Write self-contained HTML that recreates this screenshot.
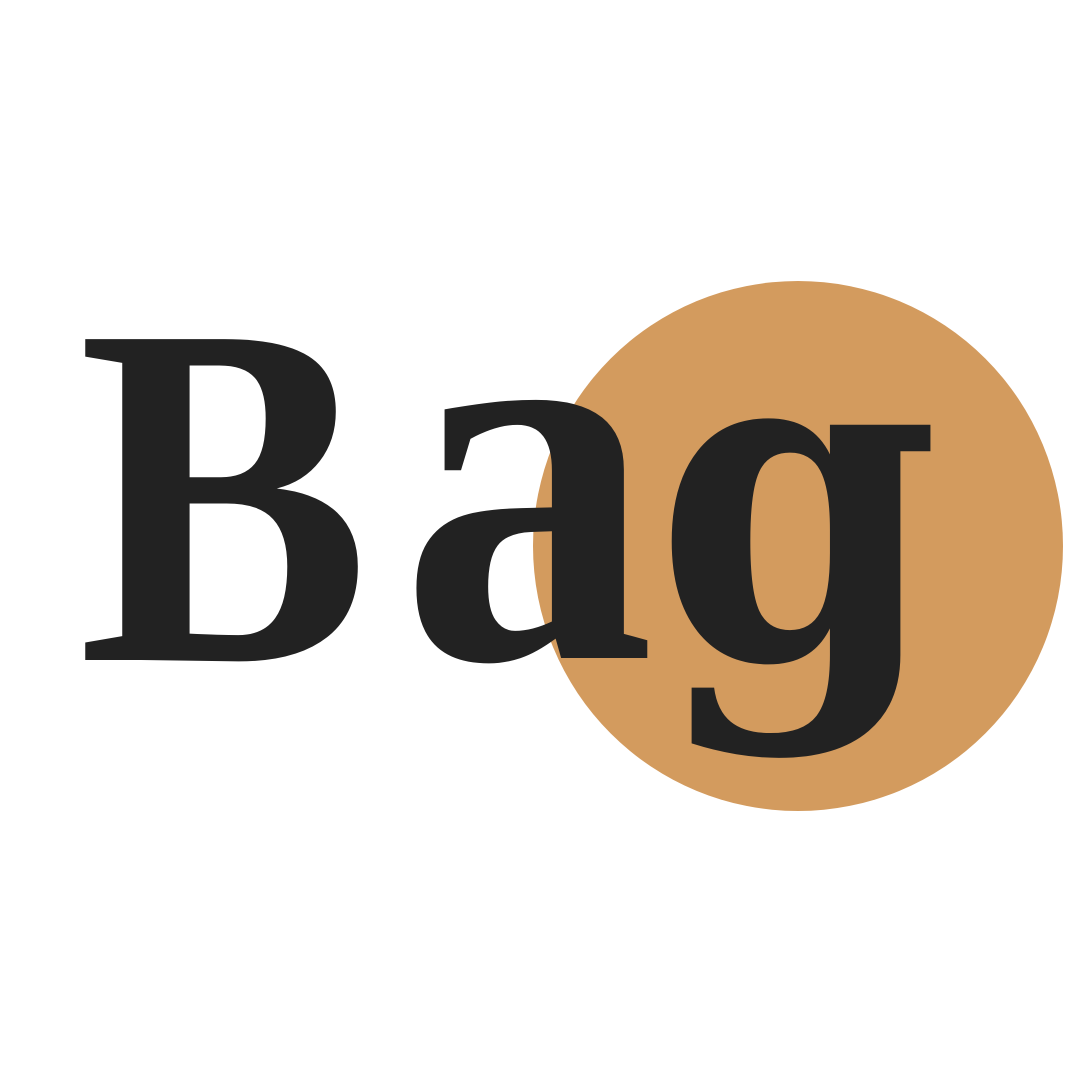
<!DOCTYPE html>
<html>
<head>
<meta charset="utf-8">
<style>
  html,body{margin:0;padding:0;background:#fff;}
  svg{display:block;}
  text{font-family:"Liberation Serif", serif;font-weight:bold;fill:#222222;}
  .g{font-family:"DejaVu Serif", serif;}
</style>
</head>
<body>
<svg width="1080" height="1080" viewBox="0 0 1080 1080">
  <rect width="1080" height="1080" fill="#ffffff"/>
  <circle cx="798" cy="546" r="265" fill="#D39B5E"/>
  <text x="78" y="660" font-size="490" textLength="292" lengthAdjust="spacingAndGlyphs">B</text>
  <text x="400" y="658" font-size="550" textLength="255" lengthAdjust="spacingAndGlyphs">a</text>
  <g transform="translate(0,658) scale(1,1.07)">
    <text class="g" x="655" y="0" font-size="420" textLength="285" lengthAdjust="spacingAndGlyphs">g</text>
  </g>
</svg>
</body>
</html>
